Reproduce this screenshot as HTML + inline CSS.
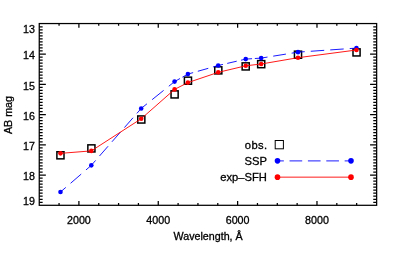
<!DOCTYPE html>
<html><head><meta charset="utf-8"><title>SED fit</title>
<style>html,body{margin:0;padding:0;background:#fff;}svg{display:block;will-change:transform;opacity:0.999;}text{font-family:"Liberation Sans",sans-serif;fill:#000;stroke:#000;stroke-width:0.3px;}</style>
</head><body>
<svg width="415" height="255" viewBox="0 0 415 255">
<rect x="0" y="0" width="415" height="255" fill="#fff"/>
<g stroke="#000" stroke-width="1.25" fill="none" stroke-linecap="butt">
<rect x="39.25" y="23.55" width="337.40" height="181.75"/>
<path d="M59.06 205.3V203.10M59.06 23.55V25.75M78.90 205.3V201.10M78.90 23.55V27.75M98.74 205.3V203.10M98.74 23.55V25.75M118.58 205.3V203.10M118.58 23.55V25.75M138.42 205.3V203.10M138.42 23.55V25.75M158.26 205.3V201.10M158.26 23.55V27.75M178.10 205.3V203.10M178.10 23.55V25.75M197.94 205.3V203.10M197.94 23.55V25.75M217.78 205.3V203.10M217.78 23.55V25.75M237.62 205.3V201.10M237.62 23.55V27.75M257.46 205.3V203.10M257.46 23.55V25.75M277.30 205.3V203.10M277.30 23.55V25.75M297.14 205.3V203.10M297.14 23.55V25.75M316.98 205.3V201.10M316.98 23.55V27.75M336.82 205.3V203.10M336.82 23.55V25.75M356.66 205.3V203.10M356.66 23.55V25.75"/>
<path d="M39.25 26.78H42.65M376.65 26.78H373.25M39.25 29.80H42.65M376.65 29.80H373.25M39.25 32.83H42.65M376.65 32.83H373.25M39.25 35.85H42.65M376.65 35.85H373.25M39.25 38.88H42.65M376.65 38.88H373.25M39.25 41.90H42.65M376.65 41.90H373.25M39.25 44.93H42.65M376.65 44.93H373.25M39.25 47.96H42.65M376.65 47.96H373.25M39.25 50.98H42.65M376.65 50.98H373.25M39.25 54.01H45.85M376.65 54.01H370.05M39.25 57.03H42.65M376.65 57.03H373.25M39.25 60.06H42.65M376.65 60.06H373.25M39.25 63.09H42.65M376.65 63.09H373.25M39.25 66.11H42.65M376.65 66.11H373.25M39.25 69.14H42.65M376.65 69.14H373.25M39.25 72.16H42.65M376.65 72.16H373.25M39.25 75.19H42.65M376.65 75.19H373.25M39.25 78.22H42.65M376.65 78.22H373.25M39.25 81.24H42.65M376.65 81.24H373.25M39.25 84.27H45.85M376.65 84.27H370.05M39.25 87.29H42.65M376.65 87.29H373.25M39.25 90.32H42.65M376.65 90.32H373.25M39.25 93.34H42.65M376.65 93.34H373.25M39.25 96.37H42.65M376.65 96.37H373.25M39.25 99.40H42.65M376.65 99.40H373.25M39.25 102.42H42.65M376.65 102.42H373.25M39.25 105.45H42.65M376.65 105.45H373.25M39.25 108.47H42.65M376.65 108.47H373.25M39.25 111.50H42.65M376.65 111.50H373.25M39.25 114.53H45.85M376.65 114.53H370.05M39.25 117.55H42.65M376.65 117.55H373.25M39.25 120.58H42.65M376.65 120.58H373.25M39.25 123.60H42.65M376.65 123.60H373.25M39.25 126.63H42.65M376.65 126.63H373.25M39.25 129.65H42.65M376.65 129.65H373.25M39.25 132.68H42.65M376.65 132.68H373.25M39.25 135.71H42.65M376.65 135.71H373.25M39.25 138.73H42.65M376.65 138.73H373.25M39.25 141.76H42.65M376.65 141.76H373.25M39.25 144.78H45.85M376.65 144.78H370.05M39.25 147.81H42.65M376.65 147.81H373.25M39.25 150.83H42.65M376.65 150.83H373.25M39.25 153.86H42.65M376.65 153.86H373.25M39.25 156.89H42.65M376.65 156.89H373.25M39.25 159.91H42.65M376.65 159.91H373.25M39.25 162.94H42.65M376.65 162.94H373.25M39.25 165.96H42.65M376.65 165.96H373.25M39.25 168.99H42.65M376.65 168.99H373.25M39.25 172.02H42.65M376.65 172.02H373.25M39.25 175.04H45.85M376.65 175.04H370.05M39.25 178.07H42.65M376.65 178.07H373.25M39.25 181.09H42.65M376.65 181.09H373.25M39.25 184.12H42.65M376.65 184.12H373.25M39.25 187.14H42.65M376.65 187.14H373.25M39.25 190.17H42.65M376.65 190.17H373.25M39.25 193.20H42.65M376.65 193.20H373.25M39.25 196.22H42.65M376.65 196.22H373.25M39.25 199.25H42.65M376.65 199.25H373.25M39.25 202.27H42.65M376.65 202.27H373.25"/>
</g>
<g font-size="10.7px">
<text x="35.0" y="32.9" text-anchor="end">13</text>
<text x="35.0" y="59.3" text-anchor="end">14</text>
<text x="35.0" y="89.5" text-anchor="end">15</text>
<text x="35.0" y="119.9" text-anchor="end">16</text>
<text x="35.0" y="150.0" text-anchor="end">17</text>
<text x="35.0" y="180.3" text-anchor="end">18</text>
<text x="35.0" y="205.3" text-anchor="end">19</text>
<text x="78.90" y="224.2" text-anchor="middle">2000</text>
<text x="158.26" y="224.2" text-anchor="middle">4000</text>
<text x="237.62" y="224.2" text-anchor="middle">6000</text>
<text x="316.98" y="224.2" text-anchor="middle">8000</text>
<text x="208.1" y="240.1" text-anchor="middle">Wavelength, &#197;</text>
<text transform="translate(11.8,115.0) rotate(-90)" text-anchor="middle">AB mag</text>
<g font-size="11.2px">
<text x="267.7" y="148.6" text-anchor="end" letter-spacing="0.45">obs.</text>
<text x="266.9" y="164.7" text-anchor="end">SSP</text>
<text x="266.9" y="180.8" text-anchor="end">exp&#8211;SFH</text>
</g>
</g>
<g stroke="#000" stroke-width="1.5" fill="none">
<rect x="56.90" y="151.75" width="7.1" height="7.1"/>
<rect x="87.85" y="144.85" width="7.1" height="7.1"/>
<rect x="137.75" y="115.95" width="7.1" height="7.1"/>
<rect x="171.05" y="90.85" width="7.1" height="7.1"/>
<rect x="184.40" y="77.15" width="7.1" height="7.1"/>
<rect x="214.75" y="66.80" width="7.1" height="7.1"/>
<rect x="242.15" y="62.85" width="7.1" height="7.1"/>
<rect x="257.65" y="60.60" width="7.1" height="7.1"/>
<rect x="294.45" y="51.15" width="7.1" height="7.1"/>
<rect x="353.00" y="48.85" width="7.1" height="7.1"/>
</g>
<rect x="275.2" y="140.5" width="8.2" height="8.3" stroke="#000" stroke-width="1" fill="none"/>
<path d="M60.50 192.00L65.81 187.40M70.59 183.27L81.21 174.08M85.99 169.95L91.30 165.35M91.30 165.35L95.60 160.44M99.47 156.03L108.08 146.22M111.95 141.81L120.55 131.99M124.42 127.58L133.03 117.77M136.90 113.36L141.20 108.45M141.20 108.45L146.95 103.82M152.12 99.66L163.63 90.39M168.80 86.23L174.55 81.60M174.55 81.60L180.02 78.52M182.43 77.17L187.90 74.10M187.90 74.10L193.13 72.62M197.82 71.28L208.28 68.32M212.97 66.98L218.20 65.50M218.20 65.50L222.95 64.40M227.22 63.40L236.73 61.20M241.00 60.20L245.75 59.10M245.75 59.10L252.06 58.69M254.84 58.51L261.15 58.10M261.15 58.10L267.51 57.07M273.22 56.15L285.93 54.10M291.64 53.18L298.00 52.15M298.00 52.15L304.72 51.68M310.76 51.27L324.21 50.33M330.24 49.92L343.69 48.98M349.73 48.57L356.45 48.10M277.50 160.90L283.84 160.90M289.54 160.90L302.21 160.90M307.91 160.90L320.59 160.90M326.29 160.90L338.96 160.90M344.66 160.90L351.00 160.90" stroke="#0000ff" stroke-width="0.9" fill="none"/>
<g fill="#0000ff">
<circle cx="60.5" cy="192.0" r="2.3"/>
<circle cx="91.3" cy="165.35" r="2.3"/>
<circle cx="141.2" cy="108.45" r="2.3"/>
<circle cx="174.55" cy="81.6" r="2.3"/>
<circle cx="187.9" cy="74.1" r="2.3"/>
<circle cx="218.2" cy="65.5" r="2.3"/>
<circle cx="245.75" cy="59.1" r="2.3"/>
<circle cx="261.15" cy="58.1" r="2.3"/>
<circle cx="298.0" cy="52.15" r="2.3"/>
<circle cx="356.45" cy="48.1" r="2.3"/>
<circle cx="277.5" cy="160.85" r="2.8"/>
<circle cx="351.0" cy="160.85" r="2.8"/>
</g>
<path d="M60.5 153.35L91.3 150.9L141.2 118.75L174.55 89.4L187.9 82.6L218.2 72.35L245.75 65.8L261.15 64.0L298.0 57.7L356.45 50.0M277.5 177.15H351.0" stroke="#ff0000" stroke-width="0.9" fill="none" stroke-linejoin="round"/>
<g fill="#ff0000">
<circle cx="60.5" cy="153.35" r="2.3"/>
<circle cx="91.3" cy="150.9" r="2.3"/>
<circle cx="141.2" cy="118.75" r="2.3"/>
<circle cx="174.55" cy="89.4" r="2.3"/>
<circle cx="187.9" cy="82.6" r="2.3"/>
<circle cx="218.2" cy="72.35" r="2.3"/>
<circle cx="245.75" cy="65.8" r="2.3"/>
<circle cx="261.15" cy="64.0" r="2.3"/>
<circle cx="298.0" cy="57.7" r="2.3"/>
<circle cx="356.45" cy="50.0" r="2.3"/>
<circle cx="277.5" cy="177.15" r="2.8"/>
<circle cx="351.0" cy="177.15" r="2.8"/>
</g>
</svg>
</body></html>
